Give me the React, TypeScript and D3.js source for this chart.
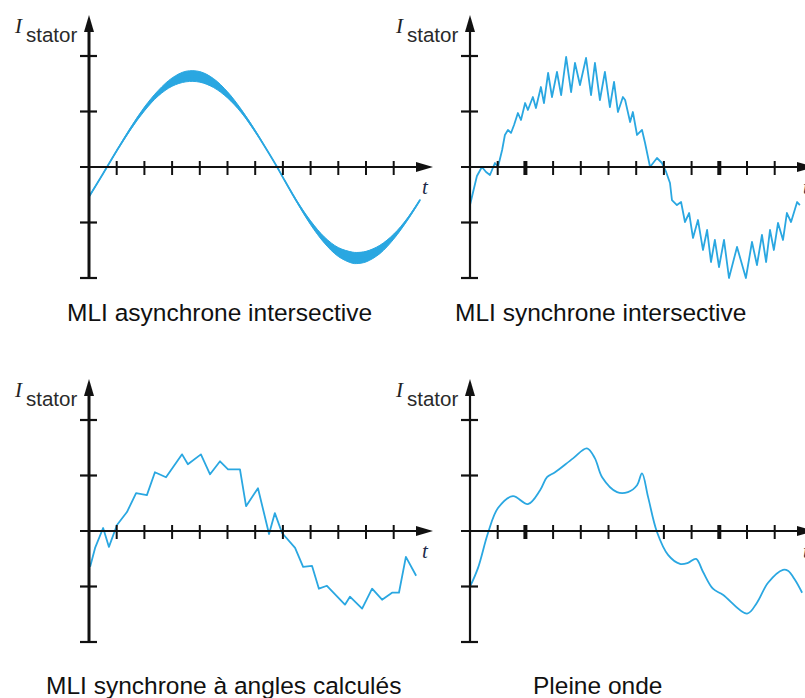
import React from 'react';
import * as d3 from 'd3';

// ---------- data (x in time-tick units, y in current-tick units) ----------
const TICKS_X = [1, 2, 3, 4, 5, 6, 7, 8, 9, 10, 11];
const TICKS_Y = [-2, -1, 1, 2];

// Panel 1 : MLI asynchrone intersective (smooth wave + ripple band)
const p1X = [0, 0.5, 1, 1.5, 2, 2.5, 3, 3.5, 4, 4.5, 5, 5.5, 6, 6.5, 6.79, 7, 7.5, 8, 8.5, 9, 9.5, 9.67, 10, 10.5, 11, 11.5, 11.95];
const p1Y = [-0.535, -0.126, 0.292, 0.691, 1.045, 1.33, 1.53, 1.63, 1.624, 1.511, 1.3, 1.007, 0.646, 0.243, 0, -0.187, -0.619, -1.005, -1.317, -1.532, -1.633, -1.64, -1.615, -1.486, -1.254, -0.938, -0.595];
const p1Ripple = [0.01, 0.005, 0.01, 0.02, 0.035, 0.05, 0.075, 0.095, 0.095, 0.08, 0.055, 0.03, 0.015, 0.005, 0.004, 0.005, 0.015, 0.035, 0.055, 0.08, 0.1, 0.1, 0.095, 0.075, 0.045, 0.02, 0.01];

// Panel 2 : MLI synchrone intersective
const p2X = [0, 0.25, 0.43, 0.58, 0.72, 0.9, 1.01, 1.16, 1.26, 1.37, 1.48, 1.59, 1.73, 1.84, 1.99, 2.09, 2.27, 2.38, 2.56, 2.67, 2.82, 2.96, 3.14, 3.29, 3.47, 3.65, 3.79, 3.97, 4.19, 4.37, 4.51, 4.69, 4.87, 5.05, 5.2, 5.34, 5.52, 5.6, 5.78, 5.88, 6.03, 6.21, 6.32, 6.5, 6.75, 6.93, 7.08, 7.22, 7.29, 7.47, 7.62, 7.76, 7.91, 8.05, 8.23, 8.41, 8.56, 8.7, 8.84, 8.99, 9.17, 9.35, 9.64, 9.96, 10.18, 10.36, 10.54, 10.69, 10.83, 10.97, 11.12, 11.3, 11.44, 11.59, 11.81, 11.91];
const p2Y = [-0.685, -0.162, 0, -0.09, -0.144, 0.072, 0, 0.306, 0.577, 0.667, 0.613, 0.757, 0.973, 0.847, 1.153, 1.027, 1.261, 1.063, 1.441, 1.153, 1.694, 1.261, 1.712, 1.297, 1.982, 1.351, 1.874, 1.477, 1.964, 1.297, 1.874, 1.207, 1.712, 1.081, 1.532, 0.991, 1.261, 1.207, 0.811, 0.991, 0.577, 0.667, 0.432, 0, 0.162, 0.072, -0.09, -0.288, -0.595, -0.685, -0.631, -0.991, -0.829, -1.279, -0.955, -1.495, -1.135, -1.712, -1.315, -1.802, -1.315, -2.0, -1.441, -2.0, -1.351, -1.766, -1.225, -1.712, -1.135, -1.495, -1.009, -1.315, -0.829, -0.991, -0.631, -0.685];

// Panel 3 : MLI synchrone à angles calculés
const p3X = [0.04, 0.22, 0.51, 0.72, 1.01, 1.37, 1.7, 2.09, 2.38, 2.78, 3.36, 3.57, 4.04, 4.37, 4.73, 5.02, 5.45, 5.67, 6.1, 6.5, 6.71, 6.97, 7.44, 7.73, 8.05, 8.3, 8.59, 9.24, 9.42, 9.86, 10.22, 10.58, 10.94, 11.19, 11.44, 11.81];
const p3Y = [-0.646, -0.305, 0.054, -0.287, 0.108, 0.341, 0.682, 0.646, 1.058, 0.969, 1.381, 1.202, 1.381, 1.022, 1.256, 1.112, 1.112, 0.448, 0.771, -0.054, 0.323, -0.036, -0.305, -0.646, -0.628, -1.04, -0.987, -1.327, -1.184, -1.399, -1.04, -1.238, -1.112, -1.112, -0.466, -0.807];

// Panel 4 : Pleine onde
const p4X = [0, 0.29, 0.65, 1.01, 1.55, 2.09, 2.53, 2.78, 3.07, 3.72, 4.22, 4.51, 4.77, 5.31, 5.7, 6.03, 6.21, 6.43, 6.75, 7.15, 7.58, 7.87, 8.16, 8.41, 8.77, 9.13, 10.0, 10.36, 10.76, 11.3, 11.48, 11.73, 11.99];
const p4Y = [-1.004, -0.664, -0.036, 0.413, 0.628, 0.484, 0.735, 0.969, 1.058, 1.309, 1.489, 1.309, 0.969, 0.7, 0.7, 0.825, 1.04, 0.61, -0.018, -0.43, -0.592, -0.574, -0.502, -0.735, -1.04, -1.148, -1.489, -1.291, -0.933, -0.7, -0.718, -0.879, -1.112];

const CAPTIONS = ['MLI asynchrone intersective', 'MLI synchrone intersective', 'MLI synchrone à angles calculés', 'Pleine onde'];
const AXIS_Y_LABEL = ['I', 'stator'];
const AXIS_X_LABEL = 't';
const BOLD_TICKS = [2, 9];

// ---------- layout ----------
const W = 805;
const H = 698;
const UX = 27.7;
const UY = 55.5;
const BLUE = '#2aa7e1';
const INK = '#111';

interface PanelProps {
  ox: number;
  oy: number;
  xs: number[];
  ys: number[];
  ripple?: number[];
  smooth: boolean;
  yAxisW: number;
  boldTicks: number[];
}

function Panel({ ox, oy, xs, ys, ripple, smooth, yAxisW, boldTicks }: PanelProps) {
  const x = d3.scaleLinear().domain([0, 12]).range([ox, ox + 12 * UX]);
  const y = d3.scaleLinear().domain([-2, 2]).range([oy + 2 * UY, oy - 2 * UY]);
  const pts: [number, number, number][] = xs.map((v, i) => [v, ys[i], ripple ? ripple[i] : 0]);
  const curve = smooth ? d3.curveCatmullRom.alpha(0.5) : d3.curveLinear;
  const line = d3.line<[number, number, number]>().x(d => x(d[0])).y(d => y(d[1])).curve(curve);
  const area = d3.area<[number, number, number]>()
    .x(d => x(d[0]))
    .y0(d => y(d[1] - d[2]))
    .y1(d => y(d[1] + d[2]))
    .curve(curve);

  const yTop = oy - 152;
  const xEnd = ox + 344;
  return (
    <g>
      {ripple && <path d={area(pts) || ''} fill={BLUE} stroke={BLUE} strokeWidth={1} />}
      <path d={line(pts) || ''} fill="none" stroke={BLUE} strokeWidth={1.8} strokeLinejoin="round" />
      {/* y axis */}
      <line x1={ox} y1={y(-2)} x2={ox} y2={yTop + 14} stroke={INK} strokeWidth={yAxisW} />
      <path d={`M${ox},${yTop} L${ox - 5},${yTop + 17} L${ox + 5},${yTop + 17} Z`} fill={INK} />
      {TICKS_Y.map(v => (
        <line key={'ty' + v} x1={ox - 9} x2={ox + 8} y1={y(v)} y2={y(v)} stroke={INK} strokeWidth={2.2} />
      ))}
      {/* x axis */}
      <line x1={ox - 9} y1={oy} x2={xEnd - 14} y2={oy} stroke={INK} strokeWidth={2.2} />
      <path d={`M${xEnd},${oy} L${xEnd - 17},${oy - 5} L${xEnd - 17},${oy + 5} Z`} fill={INK} />
      {TICKS_X.map(k => (
        <line key={'tx' + k} x1={x(k)} x2={x(k)} y1={oy - 6} y2={oy + 8} stroke={INK}
          strokeWidth={boldTicks.includes(k) ? 4 : 2} />
      ))}
      <text x={ox - 74} y={oy - 134} fontFamily="'Liberation Serif', serif" fontStyle="italic" fontSize={21} fill="#222">{AXIS_Y_LABEL[0]}</text>
      <text x={ox - 63} y={oy - 125} fontFamily="'Liberation Sans', Arial, sans-serif" fontSize={20.5} fill="#2a2a2a">{AXIS_Y_LABEL[1]}</text>
      <text x={ox + 333} y={oy + 27} fontFamily="'Liberation Serif', serif" fontStyle="italic" fontSize={21} fill="#1d2a4a">{AXIS_X_LABEL}</text>
    </g>
  );
}

export default function App() {
  const capStyle = { fontFamily: "'Liberation Sans', Arial, sans-serif", fontSize: 24.5, fill: '#111' };
  return (
    <svg width={W} height={H} style={{ position: 'absolute', left: 0, top: 0, background: '#fff' }}>
      <rect width={W} height={H} fill="#fff" />
      <Panel ox={89} oy={167} xs={p1X} ys={p1Y} ripple={p1Ripple} smooth={true} yAxisW={3} boldTicks={[]} />
      <Panel ox={470} oy={167} xs={p2X} ys={p2Y} smooth={false} yAxisW={2.2} boldTicks={BOLD_TICKS} />
      <Panel ox={89} oy={531} xs={p3X} ys={p3Y} smooth={false} yAxisW={3} boldTicks={[]} />
      <Panel ox={470} oy={531} xs={p4X} ys={p4Y} smooth={true} yAxisW={2.2} boldTicks={BOLD_TICKS} />
      <text x={67} y={321} {...capStyle}>{CAPTIONS[0]}</text>
      <text x={455} y={321} {...capStyle}>{CAPTIONS[1]}</text>
      <text x={46} y={694} {...capStyle}>{CAPTIONS[2]}</text>
      <text x={533} y={694} {...capStyle}>{CAPTIONS[3]}</text>
    </svg>
  );
}
